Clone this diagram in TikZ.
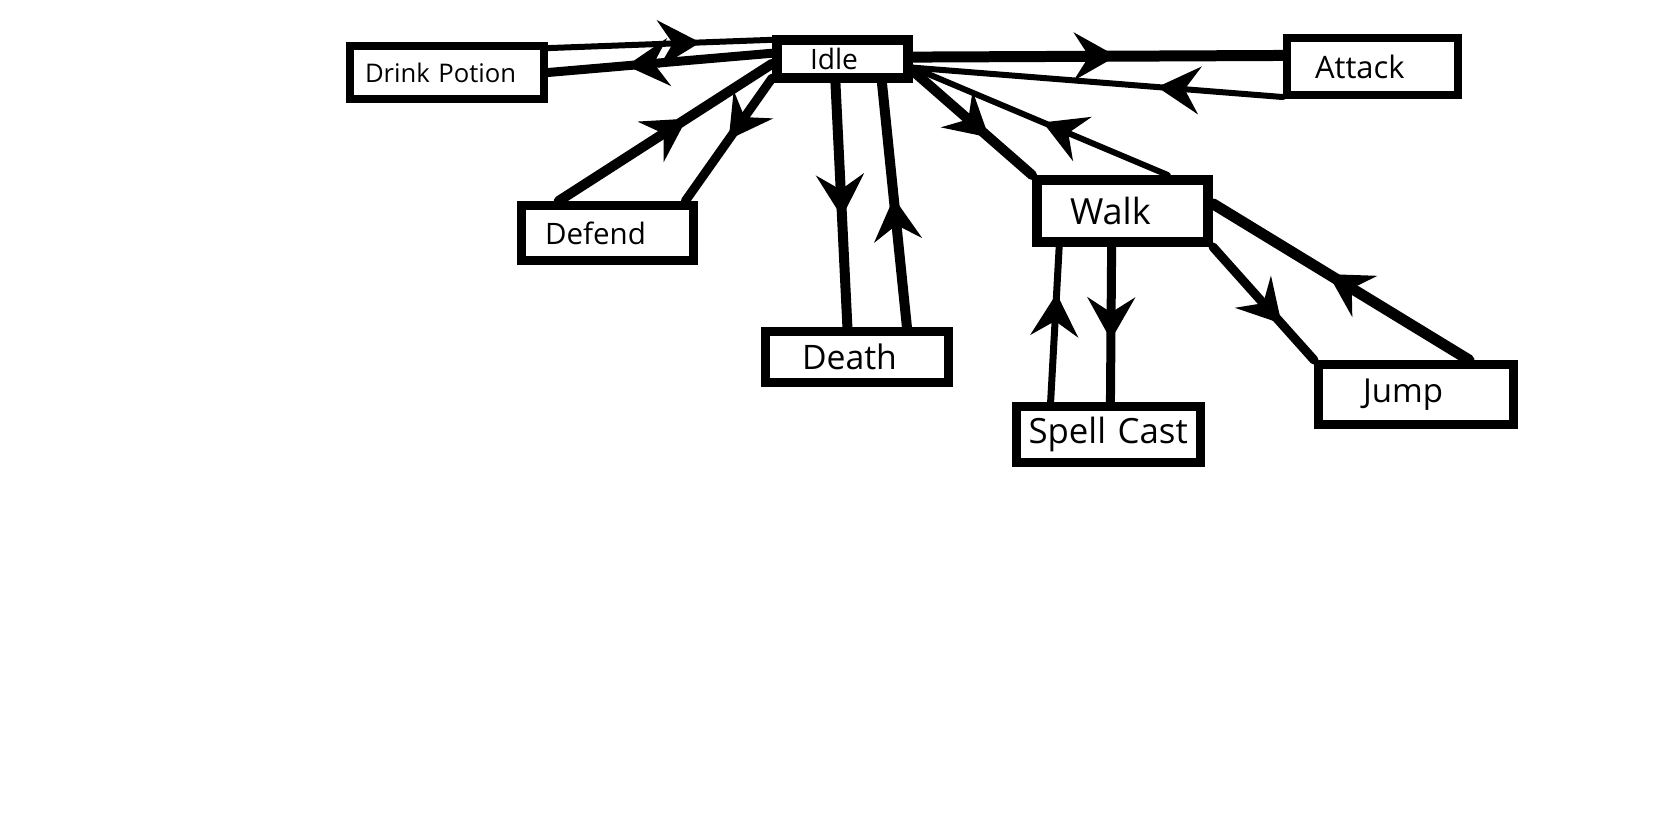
\documentclass[tikz,border=0pt]{standalone}
\usepackage{fontspec}
\setmainfont{Open Sans}
\usetikzlibrary{arrows.meta,decorations.markings,calc,backgrounds}

\tikzset{
  midtip/.tip={Stealth[length=0.85cm,width=0.95cm,inset=0.3cm]},
  state/.style 2 args={draw,fill=white,inner ysep=0pt,align=left,line width=#1,
    font=\fontsize{#2}{#2}\selectfont},
  flow/.style 2 args={line width=#1,line cap=round,
    decoration={markings,mark=at position #2 with {\arrow{midtip}}},
    postaction={decorate}},
}

\begin{document}
\begin{tikzpicture}[x=0.02cm,y=-0.02cm]
    \useasboundingbox (0,0) rectangle (1660,822);
    % states, pixel coordinates of the sketch
    \node[state={0.16cm}{14.6pt},text width=3.28cm,inner xsep=0.30cm,minimum height=1.06cm] (dp) at (447,72.5) {Drink Potion};
    \node[state={0.20cm}{16pt},text width=1.30cm,inner xsep=0.66cm,minimum height=0.76cm] (idle) at (842.5,59) {Idle};
    \node[state={0.16cm}{17.6pt},text width=2.30cm,inner xsep=0.56cm,minimum height=1.14cm] (attack) at (1372.5,66.5) {Attack};
    \node[state={0.18cm}{16.8pt},text width=2.50cm,inner xsep=0.47cm,minimum height=1.10cm] (defend) at (607.5,233) {Defend};
    \node[state={0.18cm}{19.2pt},text width=2.20cm,inner xsep=0.73cm,minimum height=1.02cm] (death) at (857,357) {Death};
    \node[state={0.20cm}{20.5pt},text width=2.10cm,inner xsep=0.66cm,minimum height=1.24cm] (walk) at (1122.5,211) {Walk};
    \node[state={0.18cm}{19.8pt},text width=3.20cm,inner xsep=0.24cm,minimum height=1.12cm] (spell) at (1108.5,434.5) {Spell Cast};
    \node[state={0.18cm}{18.8pt},text width=2.12cm,inner xsep=0.89cm,minimum height=1.20cm] (jump) at (1416,394.5) {Jump};
    % transitions
    \begin{scope}[on background layer]
    \draw[flow={0.12cm}{0.68}] ($(dp.north east)!0.1!(dp.south east)$) -- ($(idle.north west)!0.1!(idle.south west)$);
    \draw[flow={0.18cm}{0.65}] ($(idle.north west)!0.38!(idle.south west)$) -- (dp.east);
    \draw[flow={0.20cm}{0.6}] ($(defend.north west)!0.23!(defend.north east)$) -- ($(idle.north west)!0.6!(idle.south west)$);
    \draw[flow={0.18cm}{0.5}] ($(idle.north west)!0.9!(idle.south west)$) -- ($(defend.north west)!0.93!(defend.north east)$);
    \draw[flow={0.20cm}{0.55}] ($(idle.south west)!0.45!(idle.south east)$) -- ($(death.north west)!0.45!(death.north east)$);
    \draw[flow={0.20cm}{0.53}] ($(death.north west)!0.76!(death.north east)$) -- ($(idle.south west)!0.78!(idle.south east)$);
    \draw[flow={0.22cm}{0.55}] ($(idle.north east)!0.46!(idle.south east)$) -- ($(attack.north west)!0.33!(attack.south west)$);
    \draw[flow={0.12cm}{0.34}] ($(attack.north west)!0.97!(attack.south west)$) -- ($(idle.north east)!0.68!(idle.south east)$);
    \draw[flow={0.20cm}{0.64}] ($(idle.north east)!0.75!(idle.south east)$) -- (walk.north west);
    \draw[flow={0.12cm}{0.49}] ($(walk.north west)!0.75!(walk.north east)$) -- ($(idle.north east)!0.68!(idle.south east)$);
    \draw[flow={0.14cm}{0.7}] ($(spell.north west)!0.2!(spell.north east)$) -- ($(walk.south west)!0.15!(walk.south east)$);
    \draw[flow={0.18cm}{0.6}] ($(walk.south west)!0.44!(walk.south east)$) -- ($(spell.north west)!0.51!(spell.north east)$);
    \draw[flow={0.18cm}{0.68}] (walk.south east) -- (jump.north west);
    \draw[flow={0.22cm}{0.55}] ($(jump.north west)!0.76!(jump.north east)$) -- ($(walk.north east)!0.4!(walk.south east)$);
    \end{scope}
\end{tikzpicture}
\end{document}
